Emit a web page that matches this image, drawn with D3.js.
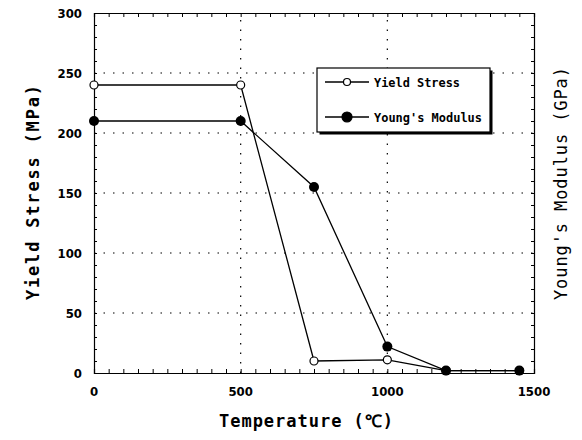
<!DOCTYPE html>
<html>
<head>
<meta charset="utf-8">
<script src="https://cdn.jsdelivr.net/npm/d3@7"></script>
<style>
  html, body { margin: 0; padding: 0; background: #fff; }
  svg { display: block; }
  text { font-family: "DejaVu Sans Condensed", "Liberation Sans", sans-serif; font-weight: bold; fill: #000; }
  text.mono { font-family: "DejaVu Sans Mono", "Liberation Mono", monospace; }
</style>
</head>
<body>
<svg id="chart" width="582" height="440"></svg>
<script>
// Temperature samples (°C)
const temperature = [0, 500, 750, 1000, 1200, 1450];
// Yield stress (MPa)
const yieldStress = [240, 240, 10, 11, 2, 2];
// Young's modulus (GPa)
const youngsModulus = [210, 210, 155, 22, 2, 2];
// Major tick values
const xTicks = [0, 500, 1000, 1500];
const yTicks = [0, 50, 100, 150, 200, 250, 300];
const seriesNames = ["Yield Stress", "Young's Modulus"];

const svg = d3.select("#chart");
const m = { left: 94, right: 48, top: 13, bottom: 67 };
const W = 582, H = 440;
const x = d3.scaleLinear().domain([0, 1500]).range([m.left, W - m.right]);
const y = d3.scaleLinear().domain([0, 300]).range([H - m.bottom, m.top]);
const x0 = x.range()[0], x1 = x.range()[1], y0 = y.range()[0], y1 = y.range()[1];

// Dotted grid at the major ticks
const grid = svg.append("g").attr("stroke", "#000").attr("stroke-width", 1.2)
  .attr("stroke-dasharray", "1.5,8");
grid.selectAll("line.gx").data(xTicks.slice(1, -1)).join("line")
  .attr("x1", d => x(d)).attr("x2", d => x(d)).attr("y1", y0).attr("y2", y1);
grid.selectAll("line.gy").data(yTicks.slice(1, -1)).join("line")
  .attr("y1", d => y(d)).attr("y2", d => y(d)).attr("x1", x0).attr("x2", x1);

// Frame axes with inward ticks
const xMinor = d3.range(0, 1501, 50);
const yMinor = d3.range(0, 301, 10);
const axBottom = d3.axisBottom(x).tickValues(xMinor).tickSize(-4).tickFormat("");
const axTop = d3.axisTop(x).tickValues(xMinor).tickSize(-4).tickFormat("");
const axLeft = d3.axisLeft(y).tickValues(yMinor).tickSize(-3).tickFormat("");
const axRight = d3.axisRight(y).tickValues(yMinor).tickSize(-3).tickFormat("");
function styleAxis(g) {
  g.selectAll("path").attr("stroke", "#000").attr("stroke-width", 1.2);
  g.selectAll("line").attr("stroke", "#000").attr("stroke-width", 1);
}
svg.append("g").attr("transform", `translate(0,${y0})`).call(axBottom).call(styleAxis);
svg.append("g").attr("transform", `translate(0,${y1})`).call(axTop).call(styleAxis);
svg.append("g").attr("transform", `translate(${x0},0)`).call(axLeft).call(styleAxis);
svg.append("g").attr("transform", `translate(${x1},0)`).call(axRight).call(styleAxis);

// Major tick labels
svg.append("g").selectAll("text").data(xTicks).join("text")
  .attr("x", d => x(d)).attr("y", y0 + 23).attr("text-anchor", "middle")
  .attr("font-size", 13).text(d => d);
svg.append("g").selectAll("text").data(yTicks).join("text")
  .attr("x", x0 - 12).attr("y", d => y(d) + 5).attr("text-anchor", "end")
  .attr("font-size", 13).text(d => d);

// Axis titles (monospaced, letter-spaced)
svg.append("text").attr("class", "mono").attr("x", 219).attr("y", 427)
  .attr("font-size", 17).attr("textLength", 174).attr("lengthAdjust", "spacing")
  .text("Temperature (℃)");
svg.append("text").attr("class", "mono").attr("transform", "translate(39,300) rotate(-90)")
  .attr("font-size", 17).attr("textLength", 215).attr("lengthAdjust", "spacing")
  .text("Yield Stress (MPa)");
svg.append("text").attr("class", "mono").attr("transform", "translate(567,300) rotate(-90)")
  .attr("font-size", 17).attr("textLength", 233).attr("lengthAdjust", "spacing")
  .style("font-weight", "normal").text("Young's Modulus (GPa)");

// Series lines and markers (Young's modulus drawn on top)
const line = d3.line().x(d => x(d[0])).y(d => y(d[1]));
const ysData = temperature.map((t, i) => [t, yieldStress[i]]);
const ymData = temperature.map((t, i) => [t, youngsModulus[i]]);
svg.append("path").datum(ysData).attr("d", line).attr("fill", "none")
  .attr("stroke", "#000").attr("stroke-width", 1.3);
svg.append("g").selectAll("circle").data(ysData).join("circle")
  .attr("cx", d => x(d[0])).attr("cy", d => y(d[1])).attr("r", 4)
  .attr("fill", "#fff").attr("stroke", "#000").attr("stroke-width", 1.2);
svg.append("path").datum(ymData).attr("d", line).attr("fill", "none")
  .attr("stroke", "#000").attr("stroke-width", 1.3);
svg.append("g").selectAll("circle").data(ymData).join("circle")
  .attr("cx", d => x(d[0])).attr("cy", d => y(d[1])).attr("r", 5).attr("fill", "#000");

// Legend with a drop-shadow frame
const lg = svg.append("g").attr("transform", "translate(317,68)");
const lw = 173, lh = 64;
lg.append("rect").attr("x", 2.5).attr("y", 2.5).attr("width", lw).attr("height", lh).attr("fill", "#000");
lg.append("rect").attr("x", 0).attr("y", 0).attr("width", lw).attr("height", lh)
  .attr("fill", "#fff").attr("stroke", "#000").attr("stroke-width", 1.2);
const rows = [
  { name: seriesNames[0], fill: "#fff", r: 3.5, yy: 14, len: 86 },
  { name: seriesNames[1], fill: "#000", r: 5, yy: 49, len: 108 }
];
rows.forEach(rw => {
  lg.append("line").attr("x1", 8).attr("x2", 52).attr("y1", rw.yy).attr("y2", rw.yy)
    .attr("stroke", "#000").attr("stroke-width", 1.3);
  lg.append("circle").attr("cx", 30).attr("cy", rw.yy).attr("r", rw.r)
    .attr("fill", rw.fill).attr("stroke", "#000").attr("stroke-width", 1.2);
  lg.append("text").attr("class", "mono").attr("x", 57).attr("y", rw.yy + 5).attr("font-size", 13)
    .attr("textLength", rw.len).attr("lengthAdjust", "spacingAndGlyphs").text(rw.name);
});
</script>
</body>
</html>
